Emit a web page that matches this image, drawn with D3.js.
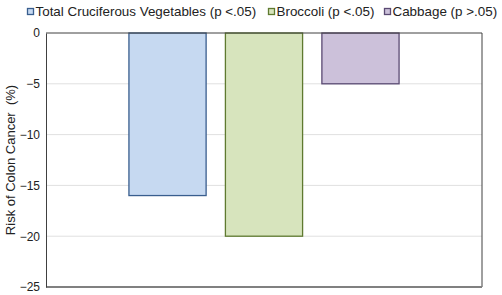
<!DOCTYPE html>
<html>
<head>
<meta charset="utf-8">
<script src="https://cdn.jsdelivr.net/npm/d3@7"></script>
<style>
  body { margin: 0; background: #fff; }
  text { font-family: "Liberation Sans", Arial, sans-serif; }
</style>
</head>
<body>
<script>
const width = 502, height = 295;
const margin = { top: 33, right: 20, bottom: 8, left: 46 };

const categories = ['Colon Cancer'];
const series = ['Total Cruciferous Vegetables (p <.05)', 'Broccoli (p <.05)', 'Cabbage (p >.05)'];
const values = [-16, -20, -5];
const fills = ['#c6d9f1', '#d7e4bd', '#ccc1da'];
const strokes = ['#395e8e', '#5f7a30', '#5a4a73'];
const yTicks = [0, -5, -10, -15, -20, -25];

const svg = d3.select('body').append('svg')
    .attr('width', width).attr('height', height);

const x0 = d3.scaleBand().domain(categories)
    .range([margin.left, width - margin.right])
    .paddingInner(0).paddingOuter(0.307);
const x1 = d3.scaleBand().domain(series)
    .range([0, x0.bandwidth()])
    .paddingInner(0.2).paddingOuter(0);
const y = d3.scaleLinear().domain([0, -25])
    .range([margin.top, height - margin.bottom]);

// gridlines
svg.append('g')
    .selectAll('line')
    .data(yTicks.filter(d => d !== 0 && d !== -25))
    .join('line')
    .attr('x1', margin.left).attr('x2', width - margin.right)
    .attr('y1', d => y(d)).attr('y2', d => y(d))
    .attr('stroke', '#e0e0e0').attr('stroke-width', 1);

// bars
svg.append('g')
    .selectAll('rect')
    .data(series.map((s, i) => ({ s, v: values[i], i })))
    .join('rect')
    .attr('x', d => x0(categories[0]) + x1(d.s))
    .attr('y', y(0))
    .attr('width', x1.bandwidth())
    .attr('height', d => y(d.v) - y(0))
    .attr('fill', d => fills[d.i])
    .attr('stroke', d => strokes[d.i])
    .attr('stroke-width', 1.3);

// frame
svg.append('line')
    .attr('x1', margin.left).attr('x2', width - margin.right)
    .attr('y1', y(0)).attr('y2', y(0))
    .attr('stroke', '#404040');
svg.append('line')
    .attr('x1', width - margin.right).attr('x2', width - margin.right)
    .attr('y1', y(0)).attr('y2', y(-25))
    .attr('stroke', '#404040');
svg.append('line')
    .attr('x1', margin.left).attr('x2', width - margin.right)
    .attr('y1', y(-25)).attr('y2', y(-25))
    .attr('stroke', '#808080').attr('stroke-width', 2);

// y axis
const yAxis = svg.append('g')
    .attr('transform', `translate(${margin.left},0)`)
    .call(d3.axisLeft(y).tickValues(yTicks).tickSize(0).tickPadding(6)
        .tickFormat(d => (d < 0 ? '\u2212' : '') + Math.abs(d)));
yAxis.select('.domain').attr('stroke', '#404040');
yAxis.selectAll('text').attr('font-size', 12).attr('fill', '#222')
    .attr('font-family', '"Liberation Sans", Arial, sans-serif');

svg.append('text')
    .attr('transform', `translate(15,${(y(0) + y(-25)) / 2}) rotate(-90)`)
    .attr('text-anchor', 'middle')
    .attr('font-size', 13).attr('fill', '#222')
    .style('white-space', 'pre')
    .text('Risk of Colon Cancer  (%)');

// legend
const legendX = [27.5, 268.5, 384.5];
const legend = svg.append('g').selectAll('g')
    .data(series)
    .join('g')
    .attr('transform', (d, i) => `translate(${legendX[i]},0)`);
legend.append('rect')
    .attr('x', 0).attr('y', 8.5).attr('width', 6).attr('height', 6)
    .attr('fill', (d, i) => fills[i]).attr('stroke', (d, i) => strokes[i]).attr('stroke-width', 1.3);
legend.append('text')
    .attr('x', 8).attr('y', 16)
    .attr('font-size', 13.4).attr('fill', '#222')
    .text(d => d);
</script>
</body>
</html>
